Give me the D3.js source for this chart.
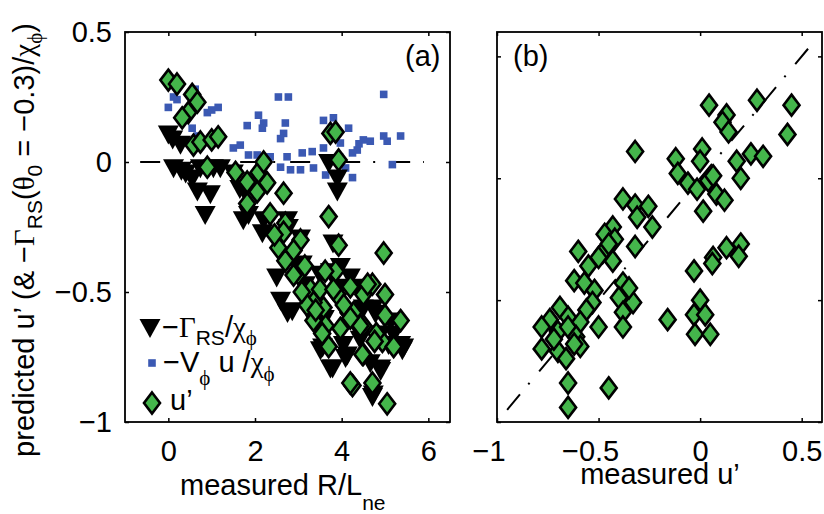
<!DOCTYPE html>
<html>
<head>
<meta charset="utf-8">
<script src="https://cdn.jsdelivr.net/npm/d3@7"></script>
<style>
  body { margin: 0; background: #fff; }
  svg { display: block; font-family: "Liberation Sans", Arial, Helvetica, sans-serif; }
  .gk { font-family: "Liberation Serif", "DejaVu Serif", serif; }
</style>
</head>
<body>
<svg id="fig" width="824" height="514"></svg>
<script>
// ---- panel (a): values against measured R/L_ne ----
const gammaX = [0.0, 0.1, 0.28, 0.12, 0.3, 0.4, 0.55, 0.74, 1.04, 0.67, 0.97, 0.85, 1.2, 1.5, 1.65, 1.73, 1.85, 1.73, 2.2, 2.17,
  2.75, 2.77, 3.05, 3.09, 2.5, 2.59, 2.86, 3.7, 3.9, 3.9, 3.8, 3.74, 3.5, 3.97, 4.2, 4.5, 4.73, 3.3, 3.6, 4.3,
  4.9, 5.13, 3.56, 3.74, 4.04, 4.13, 4.43, 4.66, 4.9, 4.73, 5.08, 5.43, 5.36, 4.1, 3.4, 2.75, 3.51, 3.79, 4.09, 4.9,
  4.71, 5.4, 5.2, 4.78, 4.36, 3.97, 2.98, 3.16];
const gammaY = [0.11, 0.09, 0.07, -0.02, -0.03, -0.04, -0.06, -0.02, -0.02, -0.11, -0.12, -0.2, -0.02, -0.04, -0.1, -0.1, -0.2, -0.22, -0.22, -0.27,
  -0.22, -0.25, -0.29, -0.39, -0.44, -0.53, -0.57, 0.0, -0.06, -0.11, -0.31, -0.42, -0.43, -0.48, -0.44, -0.56, -0.56, -0.5, -0.6, -0.62,
  -0.66, -0.61, -0.71, -0.79, -0.7, -0.74, -0.68, -0.77, -0.8, -0.89, -0.7, -0.71, -0.7, -0.58, -0.62, -0.577, -0.72, -0.79, -0.75, -0.79,
  -0.9, -0.72, -0.66, -0.58, -0.48, -0.4, -0.4, -0.47];

const vuX = [0.12, 0.0, 0.2, 0.62, 0.9, 1.0, 1.15, 0.67, 0.55, 0.74, 2.54, 2.77, 2.08, 2.2, 1.82, 2.17, 2.7, 2.66, 2.59, 4.97,
  3.58, 3.81, 4.16, 4.5, 4.66, 4.97, 5.05, 5.36, 4.36, 4.25, 1.5, 1.66, 1.85, 2.05, 2.35, 2.74, 3.09, 3.32, 3.58, 2.59,
  2.82, 3.05, 3.35, 3.63, 4.09, 4.25, 5.17, 4.4, 3.97, 3.95];
const vuY = [0.25, 0.21, 0.24, 0.28, 0.19, 0.2, 0.21, 0.1, 0.13, 0.06, 0.25, 0.25, 0.18, 0.15, 0.14, 0.13, 0.15, 0.11, 0.09, 0.26,
  0.16, 0.17, 0.13, 0.085, 0.08, 0.1, 0.08, 0.1, 0.046, 0.035, 0.054, 0.065, 0.027, 0.027, 0.02, 0.02, 0.035, 0.04, 0.054, -0.02,
  -0.03, -0.03, -0.023, -0.05, -0.023, -0.06, -0.01, 0.07, 0.073, 0.02];

const upX = [0.0, 0.2, 0.55, 0.67, 0.46, 0.32, 0.58, 0.74, 1.0, 1.15, 0.9, 1.55, 1.82, 2.08, 2.2, 2.05, 1.82, 2.28, 2.66, 2.35,
  2.7, 2.66, 3.05, 2.54, 2.89, 3.74, 3.86, 3.93, 3.7, 3.93, 4.97, 2.7, 3.0, 3.28, 3.5, 3.58, 3.86, 3.9, 4.16, 4.5,
  4.71, 5.0, 5.0, 5.36, 3.63, 3.97, 4.5, 4.94, 5.2, 3.7, 4.5, 4.25, 4.71, 5.05, 3.35, 3.35, 2.89, 3.15, 3.81, 4.2,
  4.6, 4.27, 4.43, 4.48, 4.2, 3.55, 4.05, 4.8, 3.2, 2.45, 3.08, 3.62, 3.4, 4.2, 4.76];
const upY = [0.315, 0.3, 0.26, 0.23, 0.19, 0.17, 0.065, 0.077, 0.085, 0.097, -0.02, -0.04, -0.077, -0.04, 0.0, -0.115, -0.16, -0.08, -0.12, -0.2,
  -0.235, -0.27, -0.3, -0.33, -0.34, 0.11, 0.115, 0.008, -0.21, -0.32, -0.35, -0.38, -0.43, -0.49, -0.49, -0.56, -0.42, -0.51, -0.58, -0.51,
  -0.47, -0.51, -0.59, -0.61, -0.63, -0.64, -0.63, -0.69, -0.71, -0.71, -0.74, -0.86, -0.85, -0.93, -0.61, -0.54, -0.435, -0.4, -0.49, -0.48,
  -0.47, -0.58, -0.63, -0.74, -0.85, -0.66, -0.55, -0.66, -0.55, -0.28, -0.5, -0.42, -0.57, -0.6, -0.69];

// ---- panel (b): predicted u' against measured u' ----
const measU = [0.044, 0.13, 0.11, 0.14, 0.28, 0.45, 0.43, -0.32, -0.12, 0.01, 0.0, 0.18, 0.25, 0.31, 0.2, -0.11, -0.06, -0.015, 0.04, 0.064,
  0.08, 0.12, 0.015, -0.38, -0.32, -0.255, -0.31, -0.235, -0.43, -0.47, -0.42, -0.6, -0.32, -0.48, 0.13, 0.2, 0.064, 0.19, -0.5, -0.43,
  -0.03, 0.06, -0.62, -0.57, -0.52, -0.38, -0.4, -0.33, -0.38, -0.53, -0.56, -0.69, -0.65, -0.74, -0.78, -0.7, -0.65, -0.59, -0.5, -0.61,
  -0.59, -0.78, -0.7, -0.66, -0.62, -0.38, -0.16, 0.0, -0.03, 0.025, -0.025, 0.05, -0.65, -0.45, -0.65, -0.55, -0.45, -0.72, -0.35];
const predU = [0.3, 0.26, 0.23, 0.19, 0.32, 0.3, 0.18, 0.11, 0.08, 0.12, 0.07, 0.07, 0.1, 0.09, 0.0, 0.02, -0.02, -0.045, -0.01, 0.01,
  -0.065, -0.09, -0.135, -0.085, -0.11, -0.115, -0.16, -0.2, -0.2, -0.23, -0.25, -0.3, -0.28, -0.305, -0.285, -0.27, -0.325, -0.32, -0.325, -0.34,
  -0.38, -0.35, -0.42, -0.43, -0.46, -0.43, -0.49, -0.51, -0.55, -0.51, -0.54, -0.53, -0.57, -0.58, -0.61, -0.63, -0.61, -0.59, -0.61, -0.65,
  -0.69, -0.7, -0.71, -0.74, -0.68, -0.61, -0.58, -0.5, -0.56, -0.56, -0.64, -0.64, -0.84, -0.86, -0.94, -0.36, -0.27, -0.66, -0.45];

const ticksAX = [0, 2, 4, 6];
const ticksY = [-1, -0.5, 0, 0.5];
const ticksBX = [-1, -0.5, 0, 0.5];
const refA = [-0.65, 5.9];     // dash-dot zero line in (a)
const refB = [-0.95, 0.55];    // dash-dot y = x line in (b)

const GREEN = "#44b54b", BLUE = "#3b59b3";
const FS = 29, SUB = 21;
const svg = d3.select("#fig");

const xa = d3.scaleLinear().domain([-1, 6.5]).range([125, 450]);
const ya = d3.scaleLinear().domain([-1, 0.5]).range([422, 32]);
const xb = d3.scaleLinear().domain([-1, 0.6]).range([497, 822]);
const yb = d3.scaleLinear().domain([-1, 0.6]).range([422, 32]);

const tri = "M-10.5,-8L10.5,-8L0,11Z";
const dia = "M0,-10.5L8,0L0,10.5L-8,0Z";
const sq = "M-3.8,-3.8h7.6v7.6h-7.6Z";
const fmt = d => (d < 0 ? "\u2212" : "") + Math.abs(d);

function frame(x, y, xt, yLabels) {
  const g = svg.append("g");
  const [x0, x1] = x.range(), [y0, y1] = y.range();
  const style = a => a.attr("font-size", FS).attr("font-family", null)
    .call(s => s.select(".domain").remove())
    .call(s => s.selectAll(".tick line").attr("stroke-width", 1.5));
  const bot = g.append("g").attr("transform", `translate(0,${y0})`)
    .call(d3.axisBottom(x).tickValues(xt).tickSize(-4).tickPadding(18).tickFormat(d => String(Math.abs(d)))).call(style);
  // centre the number on the tick and let the minus sign hang to the left
  bot.selectAll(".tick text").each(function(d) {
    if (d < 0) {
      const w = this.getComputedTextLength();
      d3.select(this).attr("text-anchor", "end").attr("x", w / 2).text(fmt(d));
    }
  });
  g.append("g").attr("transform", `translate(0,${y1})`)
    .call(d3.axisTop(x).tickValues(xt).tickSize(-4).tickFormat("")).call(style);
  g.append("g").attr("transform", `translate(${x0},0)`)
    .call(d3.axisLeft(y).tickValues(ticksY).tickSize(-4).tickPadding(13).tickFormat(yLabels ? fmt : "")).call(style);
  g.append("g").attr("transform", `translate(${x1},0)`)
    .call(d3.axisRight(y).tickValues(ticksY).tickSize(-4).tickFormat("")).call(style);
  g.append("rect").attr("x", x0).attr("y", y1).attr("width", x1 - x0).attr("height", y0 - y1)
    .attr("fill", "none").attr("stroke", "#000").attr("stroke-width", 1.8);
  return g;
}

function marks(g, xs, ys, x, y, kind) {
  const sel = g.append("g").selectAll("path").data(d3.range(xs.length)).join("path")
    .attr("transform", i => `translate(${x(xs[i])},${y(ys[i])})`);
  if (kind === "tri") sel.attr("d", tri).attr("fill", "#000");
  if (kind === "sq") sel.attr("d", sq).attr("fill", BLUE);
  if (kind === "dia") sel.attr("d", dia).attr("fill", GREEN).attr("stroke", "#000").attr("stroke-width", 2.6);
}

// rich text: parts are [string, shift, greek]
function rich(t, parts) {
  let cur = 0;
  parts.forEach(([s, shift, greek]) => {
    const ts = t.append("tspan").attr("dy", shift - cur).text(s);
    if (shift !== 0) ts.attr("font-size", SUB);
    if (greek) ts.attr("class", "gk");
    cur = shift;
  });
}

// ---- panel (a) ----
const ga = svg.append("g");
ga.append("line").attr("x1", xa(refA[0])).attr("x2", xa(refA[1])).attr("y1", ya(0)).attr("y2", ya(0))
  .attr("stroke", "#000").attr("stroke-width", 2).attr("stroke-dasharray", "20 13 2 15");
marks(ga, vuX, vuY, xa, ya, "sq");
marks(ga, gammaX, gammaY, xa, ya, "tri");
marks(ga, upX, upY, xa, ya, "dia");
frame(xa, ya, ticksAX, true);
svg.append("text").attr("x", 405).attr("y", 66).attr("font-size", FS).text("(a)");

// legend
const lg = svg.append("g").attr("font-size", FS);
lg.append("path").attr("d", tri).attr("transform", "translate(150,327)").attr("fill", "#000");
rich(lg.append("text").attr("x", 162).attr("y", 337),
  [["\u2212", 0], ["\u0393", 0, 1], ["RS", 8], ["/", 0], ["\u03c7", 0, 1], ["\u03d5", 8, 1]]);
lg.append("path").attr("d", sq).attr("transform", "translate(152,363)").attr("fill", BLUE);
rich(lg.append("text").attr("x", 163).attr("y", 372),
  [["\u2212V", 0], ["\u03d5", 13, 1], [" u /", 0], ["\u03c7", 0, 1], ["\u03d5", 9, 1]]);
lg.append("path").attr("d", dia).attr("transform", "translate(152,403)")
  .attr("fill", GREEN).attr("stroke", "#000").attr("stroke-width", 2.6);
lg.append("text").attr("x", 170).attr("y", 410).text("u\u2019");

// axis labels (a)
rich(svg.append("text").attr("x", 180).attr("y", 495).attr("font-size", FS),
  [["measured R/L", 0], ["ne", 15]]);

rich(svg.append("text").attr("transform", "translate(34,240) rotate(-90)")
  .attr("text-anchor", "middle").attr("font-size", FS),
  [["predicted u\u2019 (& \u2212", 0], ["\u0393", 0, 1], ["RS", 8], ["(", 0], ["\u03b8", 0, 1], ["0", 8],
   [" = \u22120.3)/", 0], ["\u03c7", 0, 1], ["\u03d5", 8, 1], [")", 0]]);

// ---- panel (b) ----
const gb = svg.append("g");
gb.append("line").attr("x1", xb(refB[0])).attr("y1", yb(refB[0])).attr("x2", xb(refB[1])).attr("y2", yb(refB[1]))
  .attr("stroke", "#000").attr("stroke-width", 2).attr("stroke-dasharray", "20 13 2 15");
marks(gb, measU, predU, xb, yb, "dia");
frame(xb, yb, ticksBX, false);
svg.append("text").attr("x", 513).attr("y", 66).attr("font-size", FS).text("(b)");
svg.append("text").attr("x", 660).attr("y", 484).attr("text-anchor", "middle").attr("font-size", FS).text("measured u\u2019");
</script>
</body>
</html>
